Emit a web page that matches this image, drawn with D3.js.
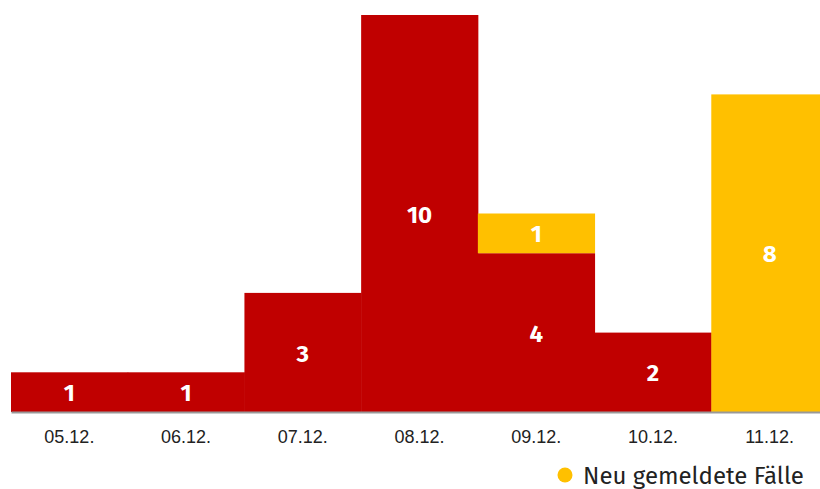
<!DOCTYPE html>
<html>
<head>
<meta charset="utf-8">
<script src="https://cdn.jsdelivr.net/npm/d3@7"></script>
<style>
  body { margin: 0; background: #fff; }
  svg { display: block; font-family: "Fira Sans", "Noto Sans", "Open Sans", sans-serif; }
</style>
</head>
<body>
<div id="chart"></div>
<script>
// data
const days = ["05.12.", "06.12.", "07.12.", "08.12.", "09.12.", "10.12.", "11.12."];
const bisher = [1, 1, 3, 10, 4, 2, 0];   // red
const neu = [0, 0, 0, 0, 1, 0, 8];       // yellow
const legendLabel = "Neu gemeldete Fälle";

const width = 820, height = 489;
const colors = { bisher: "#c00000", neu: "#ffc000" };

const svg = d3.select("#chart")
  .append("svg")
  .attr("width", width)
  .attr("height", height);

const x = d3.scaleBand()
  .domain(days)
  .range([11, 828])
  .padding(0);

const y = d3.scaleLinear()
  .domain([0, 10])
  .range([412, 15]);

const rows = days.map((d, i) => ({ day: d, bisher: bisher[i], neu: neu[i] }));
const stack = d3.stack().keys(["bisher", "neu"])(rows);

// bars
const layer = svg.append("g")
  .selectAll("g")
  .data(stack)
  .enter()
  .append("g")
  .attr("fill", s => colors[s.key]);

layer.selectAll("rect")
  .data(s => s.filter(d => d[1] > d[0]))
  .enter()
  .append("rect")
  .attr("x", d => x(d.data.day))
  .attr("y", d => y(d[1]))
  .attr("width", x.bandwidth() + 0.5)
  .attr("height", d => y(d[0]) - y(d[1]));

// value labels
layer.selectAll("text")
  .data(s => s.filter(d => d[1] > d[0]))
  .enter()
  .append("text")
  .attr("x", d => x(d.data.day) + x.bandwidth() / 2)
  .attr("y", d => (y(d[0]) + y(d[1])) / 2)
  .attr("dy", "0.38em")
  .attr("text-anchor", "middle")
  .attr("fill", "#fff")
  .attr("font-size", "24px")
  .attr("font-weight", "bold")
  .text(d => d[1] - d[0]);

// baseline axis
const axis = svg.append("g")
  .attr("transform", `translate(0,${y(0)})`)
  .call(d3.axisBottom(x).tickSize(0).tickPadding(18));

axis.select(".domain")
  .attr("stroke", "#999")
  .attr("stroke-width", 2);

axis.selectAll("text")
  .attr("font-size", "18px")
  .attr("fill", "#222")
  .style("font-family", "inherit");

// legend
const legend = svg.append("g").attr("transform", "translate(565,475)");
legend.append("circle")
  .attr("r", 7.5)
  .attr("fill", colors.neu);
legend.append("text")
  .attr("x", 18)
  .attr("dy", "0.36em")
  .attr("font-size", "24px")
  .attr("fill", "#222")
  .text(legendLabel);
</script>
</body>
</html>
